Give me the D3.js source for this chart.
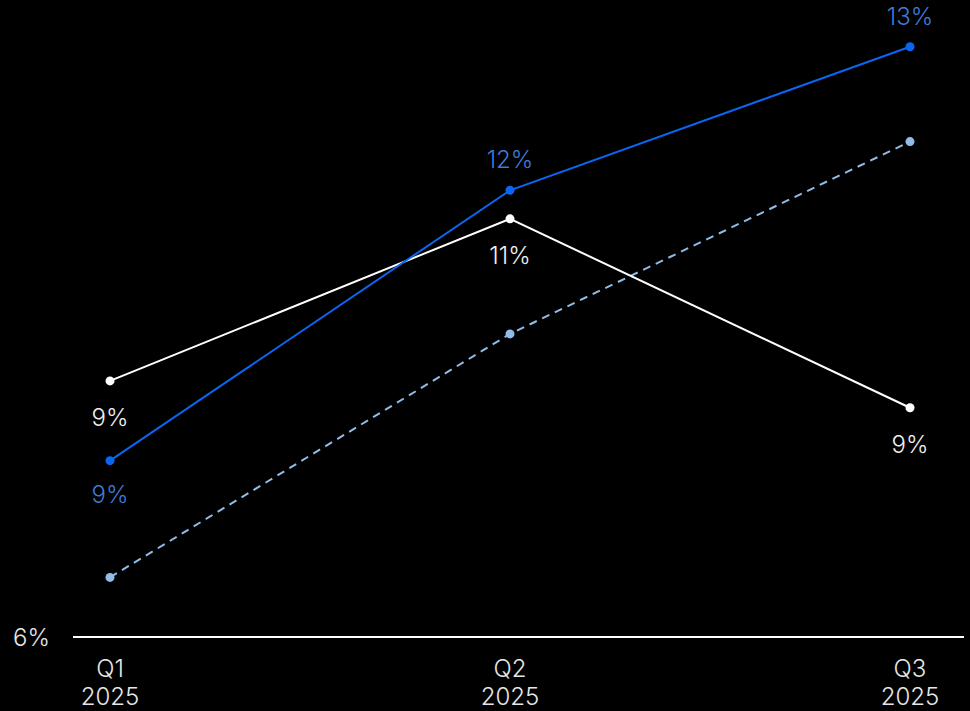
<!DOCTYPE html>
<html>
<head>
<meta charset="utf-8">
<script src="https://cdn.jsdelivr.net/npm/d3@7"></script>
<style>
  html, body { margin: 0; padding: 0; background: #000; }
  svg { display: block; }
  text { font-family: Inter, "Noto Sans", sans-serif; font-weight: 300; }
</style>
</head>
<body>
<svg id="chart" width="970" height="711"></svg>
<script>
// Quarterly share, in percent
const quarters = ["Q1", "Q2", "Q3"];
const years = ["2025", "2025", "2025"];
const seriesBlue = [9.02, 12.24, 13.95];
const seriesWhite = [9.97, 11.90, 9.65];
const seriesDashed = [7.63, 10.53, 12.82];
const yMin = 6.92;
const yMax = 14.03;

const W = 970, H = 711;
const svg = d3.select("#chart");
svg.append("rect").attr("width", W).attr("height", H).attr("fill", "#000");

const x = d3.scalePoint().domain(quarters).range([110, 910]);
const y = d3.scaleLinear().domain([yMin, yMax]).range([637, 40]);

// whole-percent labels (truncated)
const pct = v => Math.floor(v) + "%";

// baseline
svg.append("line")
  .attr("x1", 73).attr("x2", 964)
  .attr("y1", y(yMin)).attr("y2", y(yMin))
  .attr("stroke", "#fff").attr("stroke-width", 2);

// y-axis minimum label
svg.append("text")
  .attr("x", 50).attr("y", y(yMin) + 8.5)
  .attr("text-anchor", "end")
  .attr("fill", "#e6e6e6")
  .attr("font-size", 24)
  .text(pct(yMin));

// x-axis category labels
const xl = svg.append("g").selectAll("text").data(quarters).join("text")
  .attr("text-anchor", "middle")
  .attr("fill", "#e6e6e6")
  .attr("font-size", 24);
xl.append("tspan").attr("x", d => x(d)).attr("y", 677).text(d => d);
xl.append("tspan").attr("x", d => x(d)).attr("y", 705).text((d, i) => years[i]);

const line = d3.line().x((d, i) => x(quarters[i])).y(d => y(d));

function drawSeries(values, color, dash) {
  svg.append("path")
    .datum(values)
    .attr("d", line)
    .attr("fill", "none")
    .attr("stroke", color)
    .attr("stroke-width", 2)
    .attr("stroke-dasharray", dash || null);
  svg.append("g").selectAll("circle").data(values).join("circle")
    .attr("cx", (d, i) => x(quarters[i]))
    .attr("cy", d => y(d))
    .attr("r", 4.5)
    .attr("fill", color);
}

drawSeries(seriesDashed, "#8fbde8", "8,6");
drawSeries(seriesWhite, "#ffffff");
drawSeries(seriesBlue, "#0a66f0");

// value labels: white series below its points
svg.append("g").selectAll("text").data(seriesWhite).join("text")
  .attr("x", (d, i) => x(quarters[i]))
  .attr("y", d => y(d) + 45)
  .attr("text-anchor", "middle")
  .attr("fill", "#f0f0f0")
  .attr("font-size", 24)
  .text(d => pct(d));

// blue series: first label below, others above
svg.append("g").selectAll("text").data(seriesBlue).join("text")
  .attr("x", (d, i) => x(quarters[i]))
  .attr("y", (d, i) => i === 0 ? y(d) + 42 : y(d) - 22)
  .attr("text-anchor", "middle")
  .attr("fill", "#3f7bd6")
  .attr("font-size", 24)
  .text(d => pct(d));
</script>
</body>
</html>
